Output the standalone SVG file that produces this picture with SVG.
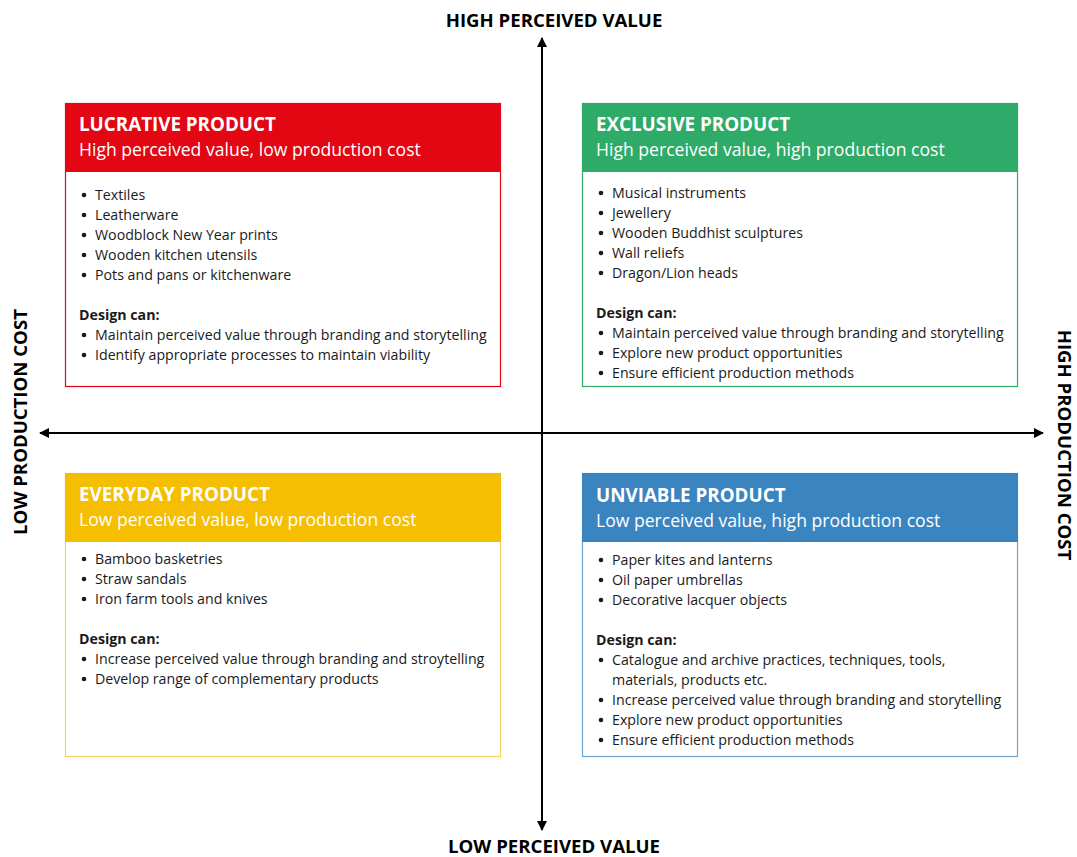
<svg xmlns="http://www.w3.org/2000/svg" width="1077" height="857" viewBox="0 0 1077 857">
<defs>
<marker id="ah" viewBox="0 0 10 10" refX="9" refY="5" markerWidth="10" markerHeight="10" markerUnits="userSpaceOnUse" orient="auto-start-reverse">
<path d="M0,0 L10,5 L0,10 z" fill="#000"/>
</marker>
<style>
text{font-family:"Open Sans","Liberation Sans",sans-serif;fill:#1a1a1a}
.ax{font-size:18.6px;font-weight:bold;fill:#000}
.t{font-size:18.8px;font-weight:bold;fill:#fff}
.s{font-size:17.6px;fill:#fff}
.b{font-size:14.2px}
.h{font-size:14.2px;font-weight:bold}
.box{fill:#fff;stroke-width:1.2}
.d{fill:#1a1a1a}
</style>
</defs>
<rect width="1077" height="857" fill="#fff"/>
<g id="connectors" stroke="#000" stroke-width="2" fill="none">
<line x1="542" y1="830" x2="542" y2="38" marker-start="url(#ah)" marker-end="url(#ah)"/>
<line x1="40" y1="433" x2="1043" y2="433" marker-start="url(#ah)" marker-end="url(#ah)"/>
</g>
<g id="axis-labels">
<text class="ax" x="554" y="27" text-anchor="middle">HIGH PERCEIVED VALUE</text>
<text class="ax" x="554" y="853" text-anchor="middle">LOW PERCEIVED VALUE</text>
<text class="ax" transform="translate(27,422) rotate(-90)" text-anchor="middle">LOW PRODUCTION COST</text>
<text class="ax" transform="translate(1058,445) rotate(90)" text-anchor="middle">HIGH PRODUCTION COST</text>
</g>
<g id="lucrative">
<rect class="box" x="65.5" y="103.5" width="435" height="283" stroke="#E30613"/>
<rect x="65" y="103" width="436" height="69" fill="#E30613"/>
<text class="t" x="79" y="131">LUCRATIVE PRODUCT</text>
<text class="s" x="79" y="156">High perceived value, low production cost</text>
<circle class="d" cx="84" cy="195" r="2.3"/><text class="b" x="95" y="200">Textiles</text>
<circle class="d" cx="84" cy="215" r="2.3"/><text class="b" x="95" y="220">Leatherware</text>
<circle class="d" cx="84" cy="235" r="2.3"/><text class="b" x="95" y="240">Woodblock New Year prints</text>
<circle class="d" cx="84" cy="255" r="2.3"/><text class="b" x="95" y="260">Wooden kitchen utensils</text>
<circle class="d" cx="84" cy="275" r="2.3"/><text class="b" x="95" y="280">Pots and pans or kitchenware</text>
<text class="h" x="79" y="320">Design can:</text>
<circle class="d" cx="84" cy="335" r="2.3"/><text class="b" x="95" y="340">Maintain perceived value through branding and storytelling</text>
<circle class="d" cx="84" cy="355" r="2.3"/><text class="b" x="95" y="360">Identify appropriate processes to maintain viability</text>
</g>
<g id="exclusive">
<rect class="box" x="582.5" y="103.5" width="435" height="283" stroke="#2EAB68"/>
<rect x="582" y="103" width="436" height="69" fill="#2EAB68"/>
<text class="t" x="596" y="131">EXCLUSIVE PRODUCT</text>
<text class="s" x="596" y="156">High perceived value, high production cost</text>
<circle class="d" cx="601" cy="193" r="2.3"/><text class="b" x="612" y="198">Musical instruments</text>
<circle class="d" cx="601" cy="213" r="2.3"/><text class="b" x="612" y="218">Jewellery</text>
<circle class="d" cx="601" cy="233" r="2.3"/><text class="b" x="612" y="238">Wooden Buddhist sculptures</text>
<circle class="d" cx="601" cy="253" r="2.3"/><text class="b" x="612" y="258">Wall reliefs</text>
<circle class="d" cx="601" cy="273" r="2.3"/><text class="b" x="612" y="278">Dragon/Lion heads</text>
<text class="h" x="596" y="318">Design can:</text>
<circle class="d" cx="601" cy="333" r="2.3"/><text class="b" x="612" y="338">Maintain perceived value through branding and storytelling</text>
<circle class="d" cx="601" cy="353" r="2.3"/><text class="b" x="612" y="358">Explore new product opportunities</text>
<circle class="d" cx="601" cy="373" r="2.3"/><text class="b" x="612" y="378">Ensure efficient production methods</text>
</g>
<g id="everyday">
<rect class="box" x="65.5" y="473.5" width="435" height="283" stroke="#F7CF5A"/>
<rect x="65" y="473" width="436" height="69" fill="#F5BE00"/>
<text class="t" x="79" y="501">EVERYDAY PRODUCT</text>
<text class="s" x="79" y="526">Low perceived value, low production cost</text>
<circle class="d" cx="84" cy="559" r="2.3"/><text class="b" x="95" y="564">Bamboo basketries</text>
<circle class="d" cx="84" cy="579" r="2.3"/><text class="b" x="95" y="584">Straw sandals</text>
<circle class="d" cx="84" cy="599" r="2.3"/><text class="b" x="95" y="604">Iron farm tools and knives</text>
<text class="h" x="79" y="644">Design can:</text>
<circle class="d" cx="84" cy="659" r="2.3"/><text class="b" x="95" y="664">Increase perceived value through branding and stroytelling</text>
<circle class="d" cx="84" cy="679" r="2.3"/><text class="b" x="95" y="684">Develop range of complementary products</text>
</g>
<g id="unviable">
<rect class="box" x="582.5" y="473.5" width="435" height="283" stroke="#6FA3D0"/>
<rect x="582" y="473" width="436" height="69" fill="#3A84C0"/>
<text class="t" x="596" y="502">UNVIABLE PRODUCT</text>
<text class="s" x="596" y="527">Low perceived value, high production cost</text>
<circle class="d" cx="601" cy="560" r="2.3"/><text class="b" x="612" y="565">Paper kites and lanterns</text>
<circle class="d" cx="601" cy="580" r="2.3"/><text class="b" x="612" y="585">Oil paper umbrellas</text>
<circle class="d" cx="601" cy="600" r="2.3"/><text class="b" x="612" y="605">Decorative lacquer objects</text>
<text class="h" x="596" y="645">Design can:</text>
<circle class="d" cx="601" cy="660" r="2.3"/><text class="b" x="612" y="665">Catalogue and archive practices, techniques, tools,</text>
<text class="b" x="612" y="685">materials, products etc.</text>
<circle class="d" cx="601" cy="700" r="2.3"/><text class="b" x="612" y="705">Increase perceived value through branding and storytelling</text>
<circle class="d" cx="601" cy="720" r="2.3"/><text class="b" x="612" y="725">Explore new product opportunities</text>
<circle class="d" cx="601" cy="740" r="2.3"/><text class="b" x="612" y="745">Ensure efficient production methods</text>
</g>
</svg>
